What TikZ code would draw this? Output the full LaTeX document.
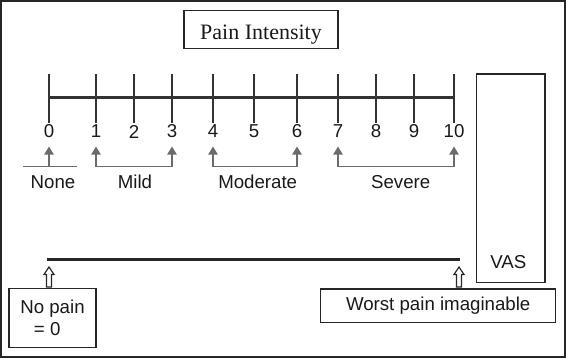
\documentclass[tikz,border=0pt]{standalone}
\usepackage{fontspec}
\setmainfont{Liberation Sans}
\newfontfamily\titlefont{Liberation Serif}
\usetikzlibrary{arrows.meta}
\def\hollowup(#1,#2){\draw[line width=0.9pt, color=black!85] (#1-2.5,#2+20) -- (#1-2.5,#2+7.5) -- (#1-5,#2+7.5) -- (#1,#2) -- (#1+5,#2+7.5) -- (#1+2.5,#2+7.5) -- (#1+2.5,#2+20) -- cycle;}

\tikzset{
	num/.style={font=\fontsize{14}{16}\selectfont, text=black!90, inner sep=1pt},
	cat/.style={font=\fontsize{14}{17}\selectfont, text=black!90, inner sep=1pt},
	box/.style={draw=black!85, line width=1pt, inner sep=0pt, font=\fontsize{14}{17}\selectfont, text=black!90},
	tick/.style={line width=1.6pt, color=black!80},
	brk/.style={line width=0.9pt, color=black!58, >={Triangle[width=7pt,length=6pt]}},
}

\begin{document}
\begin{tikzpicture}[x=0.75pt, y=-0.75pt]
		%%%%% START %%%%%
		\useasboundingbox (0,0) rectangle (566,358);
		\draw[line width=1.5pt, color=black!85] (1,1) rectangle (565,357);
		
		\node[box, minimum width=115.5pt, minimum height=28.5pt, text height=14.4pt, text depth=0pt, font=\titlefont\fontsize{16.5}{19}\selectfont] (title) at (261,29.4) {Pain Intensity};
		
		% scale
		\draw[tick] (49,97.5) -- (454,97.5);
		\foreach \v/\x in {0/49,1/96,2/134,3/172,4/213,5/254,6/297,7/338,8/376,9/414,10/454} {
			\draw[tick] (\x,74) -- (\x,122.7);
			\node[num] (n\v) at (\x,131.5) {\v};
			\coordinate (t\v) at (\x,146.5);
		}
		\coordinate (bot) at (0,166.7);
		
		% brackets
		\coordinate (nl) at (22.7,166.7);
		\coordinate (nr) at (76.7,166.7);
		\draw[brk] (nl) -- (nr);
		\draw[brk,<-] (t0) -- (t0 |- bot);
		\draw[brk,<->] (t1) -- (t1 |- bot) -- (t3 |- bot) -- (t3);
		\draw[brk,<->] (t4) -- (t4 |- bot) -- (t6 |- bot) -- (t6);
		\draw[brk,<->] (t7) -- (t7 |- bot) -- (t10 |- bot) -- (t10);
		
		\node[cat] (none) at (53,181.7) {None};
		\node[cat] (mild) at (135,181.7) {Mild};
		\node[cat] (moderate) at (257.7,181.7) {Moderate};
		\node[cat] (severe) at (400.7,181.7) {Severe};
		
		% visual analogue scale
		\node[box, minimum width=51.4pt, minimum height=156.2pt] (vas) at (510.75,178.2) {};
		\node[cat] (vastext) at (508.3,261.7) {VAS};
		
		\coordinate (vl) at (46.7,259.3);
		\coordinate (vr) at (460,259.3);
		\draw[line width=1.8pt, color=black!85] (vl) -- (vr);
		
		\hollowup(49,267);
		\hollowup(459,267);
		
		\node[box, minimum width=65.25pt, minimum height=44.25pt, align=center] (nopain) at (52.5,317.8) {No pain\\= 0\hspace*{8pt}};
		\node[box, minimum width=176.25pt, minimum height=25pt] (worst) at (438.2,305.7) {Worst pain imaginable};
		
		%%%%% END %%%%%
	\end{tikzpicture}
\end{document}
